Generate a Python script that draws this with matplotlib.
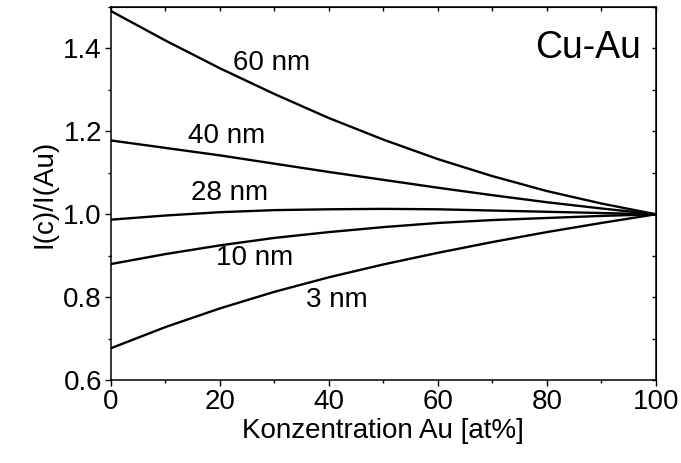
import matplotlib
matplotlib.use("Agg")
import matplotlib.pyplot as plt
import numpy as np

plt.rcParams['font.family'] = ['Liberation Sans', 'DejaVu Sans']

conc = [0, 10, 20, 30, 40, 50, 60, 70, 80, 90, 100]
i_60nm = [1.490, 1.419, 1.352, 1.290, 1.232, 1.180, 1.133, 1.092, 1.056, 1.026, 1.000]
i_40nm = [1.178, 1.160, 1.142, 1.122, 1.102, 1.083, 1.064, 1.046, 1.029, 1.014, 1.000]
i_28nm = [0.987, 0.997, 1.005, 1.010, 1.012, 1.013, 1.012, 1.009, 1.006, 1.003, 1.000]
i_10nm = [0.880, 0.904, 0.925, 0.943, 0.957, 0.969, 0.979, 0.986, 0.991, 0.996, 1.000]
i_3nm = [0.677, 0.728, 0.773, 0.813, 0.848, 0.879, 0.907, 0.933, 0.957, 0.979, 1.000]

series = [i_60nm, i_40nm, i_28nm, i_10nm, i_3nm]
labels = ["60 nm", "40 nm", "28 nm", "10 nm", "3 nm"]
label_pos = [(29.5, 1.366), (21.3, 1.188), (21.8, 1.051), (26.4, 0.894), (41.5, 0.793)]

fig = plt.figure(figsize=(6.81, 4.63), dpi=100)
ax = fig.add_axes([0.163, 0.179, 0.800, 0.806])

for s in series:
    ax.plot(conc, s, color='black', lw=1.7, solid_joinstyle='round')

for lab, (lx, ly) in zip(labels, label_pos):
    ax.text(lx, ly, lab, fontsize=20, ha='center', va='center')

ax.text(87.5, 1.402, "Cu-Au", fontsize=27, ha='center', va='center')

ax.set_xlim(0, 100)
ax.set_ylim(0.6, 1.5)
ax.set_xticks([0, 20, 40, 60, 80, 100])
ax.set_xticks(np.arange(0, 101, 10), minor=True)
ax.set_yticks([0.6, 0.8, 1.0, 1.2, 1.4])
ax.set_yticks(np.arange(0.6, 1.51, 0.1), minor=True)
ax.set_yticklabels(["0.6", "0.8", "1.0", "1.2", "1.4"])
ax.tick_params(which='major', direction='out', length=4.5, width=1.0, labelsize=20, pad=2)
ax.tick_params(which='minor', direction='out', length=2.5, width=1.0)

secx = ax.secondary_xaxis('top')
secx.set_xticks(np.arange(0, 101, 10))
secx.tick_params(direction='in', length=3, width=1.0, labeltop=False)
secy = ax.secondary_yaxis('right')
secy.set_yticks(np.arange(0.6, 1.51, 0.1))
secy.tick_params(direction='in', length=3, width=1.0, labelright=False)

for sp in ax.spines.values():
    sp.set_linewidth(1.1)

ax.set_xlabel("Konzentration Au [at%]", fontsize=20, labelpad=2)
ax.set_ylabel("I(c)/I(Au)", fontsize=20, labelpad=4)

fig.savefig("out.png", dpi=100)
